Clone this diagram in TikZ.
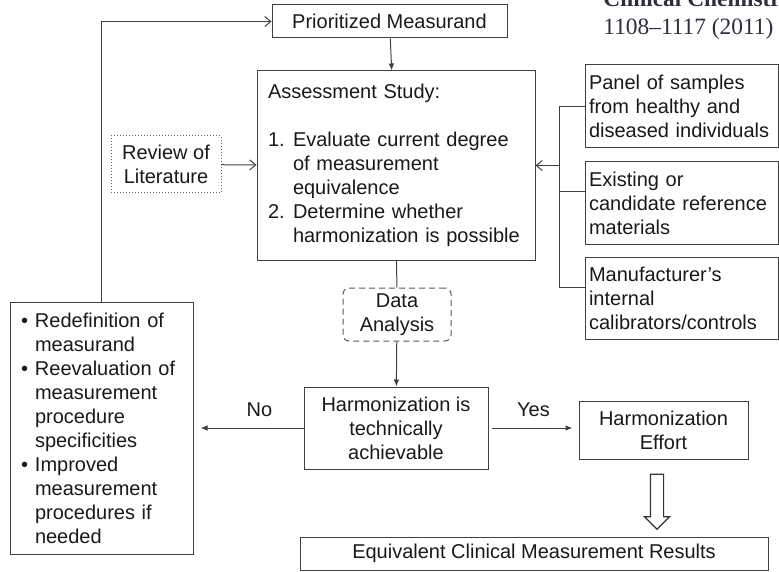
\documentclass[tikz,border=0pt]{standalone}
\usepackage{fontspec}
\setmainfont{Liberation Sans}
\newfontfamily\journalfont{Liberation Serif}
\usetikzlibrary{arrows.meta,shapes.arrows}
\definecolor{journalgray}{HTML}{2E2E3E}

\begin{document}
\begin{tikzpicture}[x=0.5pt,y=-0.5pt,
		font=\fontsize{10pt}{12pt}\selectfont,
		flowbox/.style={draw=black!75,line width=0.5pt,inner sep=2pt,text=black!90},
		>={Latex[length=3.5pt,width=2.8pt]}]
	\useasboundingbox (0,0) rectangle (779,571);

	\node[anchor=base west,inner sep=0pt,text=journalgray,font=\journalfont\fontsize{11.7pt}{14pt}\selectfont\bfseries] (journal) at (603,7) {Clinical Chemistr};
	\node[anchor=base west,inner sep=0pt,text=journalgray,font=\journalfont\fontsize{11.7pt}{14pt}\selectfont] (pages) at (603,35) {1108–1117 (2011)};

	\node[flowbox,minimum width=117.5pt,minimum height=16.5pt] (prio) at (389.5,21.5) {Prioritized Measurand};
	\node[flowbox,minimum height=94.5pt,text width=128pt,inner xsep=5.5pt,align=left] (assess) at (396,165.5) {Assessment Study:\\[12pt]
		\makebox[12.5pt][l]{1.}Evaluate current degree\\
		\hspace*{12.5pt}of measurement\\
		\hspace*{12.5pt}equivalence\\
		\makebox[12.5pt][l]{2.}Determine whether\\
		\hspace*{12.5pt}harmonization is possible};
	\node[flowbox,densely dotted,draw=black!60,minimum width=55pt,minimum height=28.5pt,align=center] (review) at (166,164.5) {Review of\\Literature};

	\node[flowbox,text width=92.5pt,minimum height=41.5pt,align=left] (panel) at (681.5,106.5) {Panel of samples\\from healthy and\\diseased individuals};
	\node[flowbox,text width=92.5pt,minimum height=41pt,align=left] (exist) at (681.5,203) {Existing or\\candidate reference\\materials};
	\node[flowbox,text width=92.5pt,minimum height=41pt,align=left] (manuf) at (681.5,298) {Manufacturer’s\\internal\\calibrators/controls};

	\node[flowbox,densely dashed,draw=black!65,rounded corners=3pt,minimum width=54pt,minimum height=26.5pt,align=center] (data) at (397,314.5) {Data\\Analysis};
	\node[flowbox,minimum width=92pt,minimum height=41pt,align=center] (harm) at (396,428) {Harmonization is\\technically\\achievable};
	\node[flowbox,minimum width=84.5pt,minimum height=29pt,align=center] (effort) at (663.5,430) {Harmonization\\Effort};
	\node[flowbox,minimum width=234pt,minimum height=16.5pt] (equiv) at (534,553.5) {Equivalent Clinical Measurement Results};

	\node[flowbox,text width=80.5pt,inner xsep=5.5pt,minimum height=126pt,align=left] (redef) at (101.5,428) {\makebox[7pt][l]{\textbullet}Redefinition of\\
		\hspace*{7pt}measurand\\
		\makebox[7pt][l]{\textbullet}Reevaluation of\\
		\hspace*{7pt}measurement\\
		\hspace*{7pt}procedure\\
		\hspace*{7pt}specificities\\
		\makebox[7pt][l]{\textbullet}Improved\\
		\hspace*{7pt}measurement\\
		\hspace*{7pt}procedures if\\
		\hspace*{7pt}needed};

	\node[single arrow,draw=black!80,line width=0.6pt,rotate=-90,minimum height=27.5pt,inner sep=3pt,single arrow head extend=3pt] (bigarrow) at (657,498.5) {};

	\coordinate (join) at (559,165.5);
	\coordinate (existin) at ([yshift=5.5pt]exist.west);
	\coordinate (manufin) at ([yshift=5.5pt]manuf.west);

	\draw[draw=black!75,line width=0.5pt,->] (prio) -- (assess);
	\draw[draw=black!75,line width=0.5pt,-{Straight Barb[length=3pt,width=5pt]}] (review) -- (assess);
	\draw[draw=black!75,line width=0.5pt] (panel.west) -| (join) |- (manufin);
	\draw[draw=black!75,line width=0.5pt] (existin) -- (join |- existin);
	\draw[draw=black!75,line width=0.5pt,-{Straight Barb[length=3pt,width=5pt]}] (join) -- (assess.east);
	\draw[draw=black!75,line width=0.5pt] (assess) -- (data);
	\draw[draw=black!75,line width=0.5pt,->] (data) -- (harm);
	\draw[draw=black!75,line width=0.5pt,->,shorten >=3.5pt] (harm.west) -- (redef.east) node[pos=0.4,above=2pt,text=black!90] (no) {No};
	\draw[draw=black!75,line width=0.5pt,->,shorten <=1.5pt,shorten >=3pt] (harm.east) -- (harm.east -| effort.west) node[midway,above=2pt,text=black!90] (yes) {Yes};
	\draw[draw=black!75,line width=0.5pt,-{Straight Barb[length=3pt,width=5pt]}] (redef.north) |- (prio.west);
\end{tikzpicture}
\end{document}
